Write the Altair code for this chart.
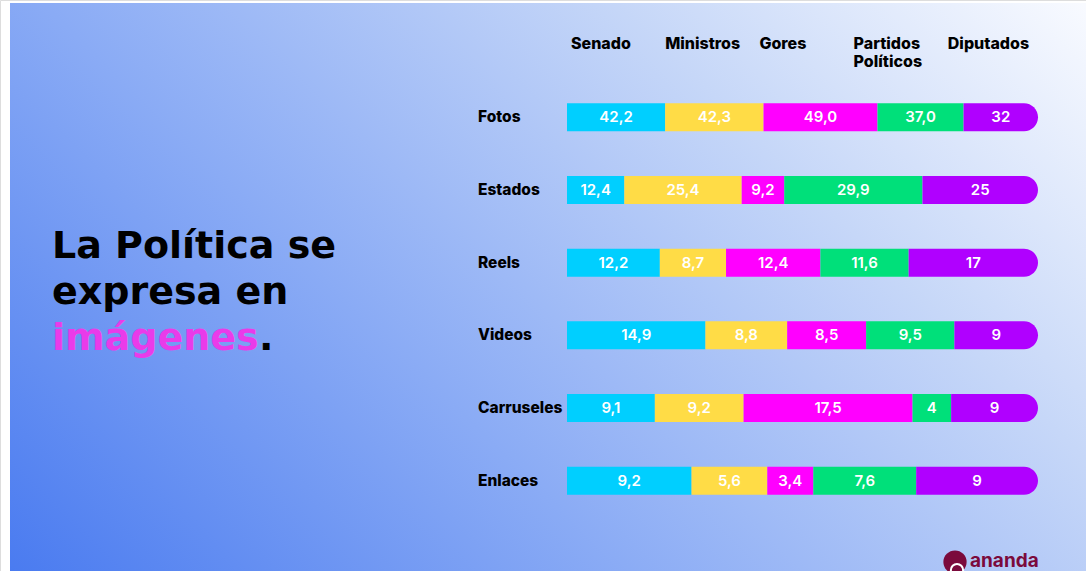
import altair as alt
import pandas as pd

# ---- data ----
tipos = ["Fotos", "Estados", "Reels", "Videos", "Carruseles", "Enlaces"]
grupos = ["Senado", "Ministros", "Gores", "Partidos Políticos", "Diputados"]
senado = ["42,2", "12,4", "12,2", "14,9", "9,1", "9,2"]
ministros = ["42,3", "25,4", "8,7", "8,8", "9,2", "5,6"]
gores = ["49,0", "9,2", "12,4", "8,5", "17,5", "3,4"]
partidos = ["37,0", "29,9", "11,6", "9,5", "4", "7,6"]
diputados = ["32", "25", "17", "9", "9", "9"]
colores = ["#00cfff", "#ffdc46", "#ff00ff", "#00e07a", "#b000ff"]
titulo = ["La Política se", "expresa en"]
destacado = "imágenes"

series = [senado, ministros, gores, partidos, diputados]
rows = []
for gi, (g, vals) in enumerate(zip(grupos, series)):
    for ti, (t, v) in enumerate(zip(tipos, vals)):
        rows.append({"tipo": t, "grupo": g, "orden": gi,
                     "valor": float(v.replace(",", ".")), "etiqueta": v})
df = pd.DataFrame(rows)

hdr = pd.DataFrame({"grupo": grupos,
                    "pos": [i / len(grupos) for i in range(len(grupos))],
                    "txt": [g.split(" ") if " " in g else [g] for g in grupos]})

FONT = "Inter"
TFONT = "DejaVu Sans"
W, H = 1086, 571

xscale = alt.Scale(domain=[0, 1], range=[567, 1038], nice=False, zero=False)
yscale = alt.Scale(domain=tipos, range=[81, 517], paddingInner=0.615, paddingOuter=0.3075)
cscale = alt.Scale(domain=grupos, range=colores)

# background
bg = alt.Chart(pd.DataFrame({"a": [0]})).mark_rect(
    color={"gradient": "linear", "x1": 0, "y1": 1, "x2": 1.19, "y2": 0.36,
           "stops": [{"offset": 0, "color": "#4a7bf0"},
                     {"offset": 0.37, "color": "#8aabf5"},
                     {"offset": 0.72, "color": "#c6d7f8"},
                     {"offset": 1, "color": "#f8faff"}]}
).encode(x=alt.value(10), x2=alt.value(W), y=alt.value(3), y2=alt.value(H))

base = alt.Chart(df).transform_stack(
    stack="valor", groupby=["tipo"], as_=["x0", "x1"], offset="normalize",
    sort=[alt.SortField("orden", order="ascending")]
).transform_calculate(mid="(datum.x0 + datum.x1) / 2")

enc = dict(
    x=alt.X("x0:Q", scale=xscale, axis=None),
    x2="x1:Q",
    y=alt.Y("tipo:N", sort=tipos, scale=yscale, axis=None),
    color=alt.Color("grupo:N", scale=cscale, legend=None),
)

bars = base.transform_filter("datum.grupo !== 'Diputados'").mark_bar().encode(**enc)
bars_end = base.transform_filter("datum.grupo === 'Diputados'").mark_bar(
    cornerRadiusTopRight=14, cornerRadiusBottomRight=14).encode(**enc)

seg_txt = base.mark_text(font=FONT, fontSize=15, fontWeight=600, color="white",
                         align="center", baseline="middle").encode(
    x=alt.X("mid:Q", scale=xscale, axis=None),
    y=alt.Y("tipo:N", sort=tipos, scale=yscale, axis=None),
    text="etiqueta:N",
)

row_lbl = alt.Chart(pd.DataFrame({"tipo": tipos})).mark_text(
    font=FONT, fontSize=15.5, fontWeight=800, color="black", align="left", baseline="middle"
).encode(x=alt.value(478), y=alt.Y("tipo:N", sort=tipos, scale=yscale, axis=None), text="tipo:N")

headers = alt.Chart(hdr).mark_text(
    font=FONT, fontSize=16, fontWeight=800, color="black", align="left",
    baseline="top", dx=4, lineHeight=18
).encode(x=alt.X("pos:Q", scale=xscale, axis=None), y=alt.value(36), text="txt")

# title block
def tline(txt, y, color, x=52):
    return alt.Chart(pd.DataFrame({"t": [txt]})).mark_text(
        font=TFONT, fontSize=38, fontWeight="bold", color=color, align="left", baseline="alphabetic"
    ).encode(x=alt.value(x), y=alt.value(y), text="t:N")

t1 = tline(titulo[0], 258, "black")
t2 = tline(titulo[1], 304, "black")
t3m = tline(destacado, 350, "#e93be9")
dot = tline(".", 350, "black", x=259)

# logo
logo_c = alt.Chart(pd.DataFrame({"a": [0]})).mark_point(
    shape="circle", filled=True, color="#7b0a3c", opacity=1, size=540
).encode(x=alt.value(955), y=alt.value(562))
logo_arc = alt.Chart(pd.DataFrame({"a": [0]})).mark_point(
    shape="circle", filled=False, color="white", opacity=1, size=150, strokeWidth=2
).encode(x=alt.value(957), y=alt.value(570))
logo_t = alt.Chart(pd.DataFrame({"t": ["ananda"]})).mark_text(
    font=FONT, fontSize=19, fontWeight=700, color="#7b0a3c", align="left", baseline="middle"
).encode(x=alt.value(970), y=alt.value(561), text="t:N")

chart = alt.layer(bg, bars, bars_end, seg_txt, row_lbl, headers, t1, t2, t3m, dot,
                  logo_c, logo_arc, logo_t).properties(
    width=W, height=H, padding=0, autosize=alt.AutoSizeParams(type="none")
).configure_view(stroke=None).configure(background="white")

chart.save("out.html", embed_options={"renderer": "svg", "actions": False})
